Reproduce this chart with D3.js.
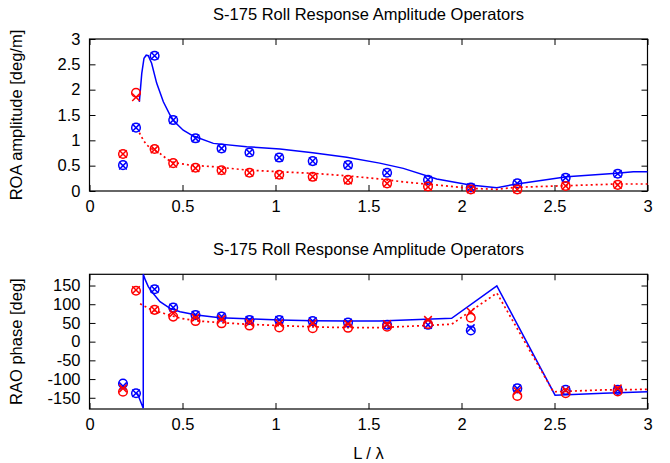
<!DOCTYPE html>
<html>
<head>
<meta charset="utf-8">
<script src="https://cdn.jsdelivr.net/npm/d3@7"></script>
<style>
  html, body { margin: 0; padding: 0; background: #fff; }
  svg text { font-family: "Liberation Sans", Arial, Helvetica, sans-serif; fill: #000; }
</style>
</head>
<body>
<svg id="chart" width="670" height="463"></svg>
<script>
// Wave length ratio L/λ of the measured runs
const xExp = [0.18, 0.25, 0.35, 0.45, 0.57, 0.71, 0.86, 1.02, 1.20, 1.39, 1.60, 1.82, 2.05, 2.30, 2.56, 2.84];

// Roll amplitude [deg/m], two measurement sets per condition
const ampBlueO = [0.51, 1.25, 2.67, 1.40, 1.04, 0.84, 0.76, 0.66, 0.59, 0.51, 0.36, 0.22, 0.07, 0.15, 0.26, 0.34];
const ampBlueX = [0.50, 1.25, 2.67, 1.40, 1.04, 0.84, 0.76, 0.66, 0.59, 0.51, 0.36, 0.22, 0.07, 0.15, 0.26, 0.34];
const ampRedO  = [0.73, 1.94, 0.83, 0.55, 0.46, 0.41, 0.36, 0.32, 0.28, 0.22, 0.15, 0.09, 0.03, 0.03, 0.10, 0.12];
const ampRedX  = [0.73, 1.85, 0.82, 0.54, 0.45, 0.40, 0.36, 0.31, 0.28, 0.21, 0.15, 0.08, 0.03, 0.03, 0.10, 0.12];

// Roll phase [deg]
const phBlueO = [-112, -138, 140, 91, 71, 67, 58, 58, 55, 51, 45, 45, 30, -125, -129, -129];
const phBlueX = [-119, -138, 140, 91, 72, 67, 58, 58, 55, 51, 45, 45, 36, -125, -129, -129];
const phRedO  = [-134, 136, 85, 67, 55, 49, 43, 38, 36, 37, 40, 47, 64, -145, -138, -133];
const phRedX  = [-125, 138, 85, 76, 64, 60, 51, 49, 49, 47, 47, 58, 80, -132, -130, -125];

// Computed responses (blue solid / red dotted)
const ampBlueModelX = [0.268, 0.281, 0.293, 0.305, 0.316, 0.334, 0.361, 0.397, 0.433, 0.456, 0.504, 0.558, 0.666, 0.845, 1.024, 1.20, 1.383, 1.56, 1.687, 1.867, 2.046, 2.19, 2.297, 2.566, 2.834, 2.924, 3.0];
const ampBlueModel  = [1.76, 2.32, 2.62, 2.68, 2.67, 2.52, 2.13, 1.76, 1.50, 1.37, 1.20, 1.085, 0.94, 0.874, 0.83, 0.756, 0.665, 0.55, 0.447, 0.237, 0.118, 0.066, 0.138, 0.282, 0.349, 0.38, 0.38];
const ampRedModelX  = [0.268, 0.29, 0.307, 0.34, 0.379, 0.42, 0.456, 0.54, 0.666, 0.845, 1.024, 1.20, 1.383, 1.56, 1.687, 1.867, 2.046, 2.19, 2.297, 2.566, 2.834, 3.0];
const ampRedModel   = [1.15, 1.00, 0.91, 0.82, 0.74, 0.62, 0.56, 0.51, 0.48, 0.414, 0.38, 0.349, 0.30, 0.237, 0.18, 0.118, 0.053, 0.033, 0.073, 0.105, 0.138, 0.138];

const phBlueModelX = [0.257, 0.289, 0.2891, 0.30, 0.316, 0.334, 0.379, 0.433, 0.487, 0.576, 0.70, 0.845, 1.024, 1.20, 1.383, 1.56, 1.947, 2.19, 2.503, 2.762, 3.0];
const phBlueModel  = [-138, -178, 180, 165, 147, 134, 107, 89, 80, 71.5, 64, 61, 58, 56, 55.5, 55.5, 62.5, 149, -143, -138, -134];
const phRedModelX  = [0.272, 0.334, 0.397, 0.487, 0.576, 0.70, 0.845, 1.024, 1.20, 1.383, 1.56, 1.947, 2.19, 2.494, 2.762, 3.0];
const phRedModel   = [101, 85, 76, 62.6, 55.5, 51, 46.5, 43, 39.5, 37.5, 37.5, 46.5, 130, -134, -129, -127.5];

// Axis ticks and labels
const xTicks = [0, 0.5, 1, 1.5, 2, 2.5, 3];
const xTickLabels = ["0", "0.5", "1", "1.5", "2", "2.5", "3"];
const ampTicks = [0, 0.5, 1, 1.5, 2, 2.5, 3];
const ampTickLabels = ["0", "0.5", "1", "1.5", "2", "2.5", "3"];
const phTicks = [-150, -100, -50, 0, 50, 100, 150];
const phTickLabels = ["-150", "-100", "-50", "0", "50", "100", "150"];

const titleText = "S-175 Roll Response Amplitude Operators";
const BLUE = "#0000ff", RED = "#ff0000";
const FONT = 16.5;

const svg = d3.select("#chart");
svg.append("rect").attr("width", 670).attr("height", 463).attr("fill", "#fff");

const x = d3.scaleLinear().domain([0, 3]).range([89.5, 647.5]);

function panel(opts) {
  const { y, yTicks, yLabels, yTitle, top, bottom, series, models, xTitle, titleY } = opts;
  const g = svg.append("g");
  const left = x.range()[0], right = x.range()[1];

  g.append("text").attr("x", (left + right) / 2).attr("y", titleY)
    .attr("text-anchor", "middle").attr("font-size", FONT).text(titleText);

  // inward ticks on all four sides
  const fmtX = d => xTickLabels[xTicks.indexOf(d)];
  const fmtY = d => yLabels[yTicks.indexOf(d)];
  const axB = g.append("g").attr("transform", `translate(0,${bottom})`)
    .call(d3.axisBottom(x).tickValues(xTicks).tickFormat(fmtX).tickSizeInner(-6).tickSizeOuter(0).tickPadding(9));
  const axT = g.append("g").attr("transform", `translate(0,${top})`)
    .call(d3.axisTop(x).tickValues(xTicks).tickFormat("").tickSizeInner(-6).tickSizeOuter(0));
  const axL = g.append("g").attr("transform", `translate(${left},0)`)
    .call(d3.axisLeft(y).tickValues(yTicks).tickFormat(fmtY).tickSizeInner(-6).tickSizeOuter(0).tickPadding(9));
  const axR = g.append("g").attr("transform", `translate(${right},0)`)
    .call(d3.axisRight(y).tickValues(yTicks).tickFormat("").tickSizeInner(-6).tickSizeOuter(0));
  [axB, axT, axL, axR].forEach(a => {
    a.select(".domain").remove();
    a.selectAll("line").attr("stroke", "#000").attr("stroke-width", 1);
    a.selectAll("text").attr("font-size", FONT).attr("font-family", '"Liberation Sans", Arial, sans-serif').attr("fill", "#000");
  });
  axB.selectAll("text").attr("dy", "0.71em");

  g.append("rect").attr("x", left).attr("y", top).attr("width", right - left).attr("height", bottom - top)
    .attr("fill", "none").attr("stroke", "#000").attr("stroke-width", 1.2);

  g.append("text").attr("transform", `translate(22,${(top + bottom) / 2}) rotate(-90)`)
    .attr("text-anchor", "middle").attr("font-size", FONT).text(yTitle);

  if (xTitle) {
    g.append("text").attr("x", (left + right) / 2).attr("y", bottom + 50)
      .attr("text-anchor", "middle").attr("font-size", FONT).text(xTitle);
  }

  const line = d3.line().x(d => x(d[0])).y(d => y(d[1]));
  const plot = g.append("g");
  models.forEach(m => {
    plot.append("path").datum(d3.zip(m.xs, m.ys)).attr("d", line)
      .attr("fill", "none").attr("stroke", m.color).attr("stroke-width", m.dash ? 1.7 : 1.5)
      .attr("stroke-dasharray", m.dash || null);
  });
  series.forEach(s => {
    const pts = d3.zip(xExp, s.ys);
    if (s.kind === "o") {
      plot.selectAll(null).data(pts).join("circle")
        .attr("cx", d => x(d[0])).attr("cy", d => y(d[1])).attr("r", 4.3)
        .attr("fill", "none").attr("stroke", s.color).attr("stroke-width", 1.5);
    } else {
      const k = 3.8;
      plot.selectAll(null).data(pts).join("path")
        .attr("d", d => {
          const cx = x(d[0]), cy = y(d[1]);
          return `M${cx - k},${cy - k}L${cx + k},${cy + k}M${cx - k},${cy + k}L${cx + k},${cy - k}`;
        })
        .attr("fill", "none").attr("stroke", s.color).attr("stroke-width", 1.5);
    }
  });
}

const yAmp = d3.scaleLinear().domain([0, 3]).range([191, 39]);
panel({
  y: yAmp, yTicks: ampTicks, yLabels: ampTickLabels, yTitle: "ROA amplitude [deg/m]",
  top: 39, bottom: 191, titleY: 20,
  models: [
    { xs: ampBlueModelX, ys: ampBlueModel, color: BLUE },
    { xs: ampRedModelX, ys: ampRedModel, color: RED, dash: "2,3" }
  ],
  series: [
    { ys: ampBlueO, color: BLUE, kind: "o" }, { ys: ampBlueX, color: BLUE, kind: "x" },
    { ys: ampRedO, color: RED, kind: "o" }, { ys: ampRedX, color: RED, kind: "x" }
  ]
});

const yPh = d3.scaleLinear().domain([-180, 180]).range([409, 274.3]);
panel({
  y: yPh, yTicks: phTicks, yLabels: phTickLabels, yTitle: "RAO phase [deg]",
  top: 274.3, bottom: 409, titleY: 255, xTitle: "L / λ",
  models: [
    { xs: phBlueModelX, ys: phBlueModel, color: BLUE },
    { xs: phRedModelX, ys: phRedModel, color: RED, dash: "2,3" }
  ],
  series: [
    { ys: phBlueO, color: BLUE, kind: "o" }, { ys: phBlueX, color: BLUE, kind: "x" },
    { ys: phRedO, color: RED, kind: "o" }, { ys: phRedX, color: RED, kind: "x" }
  ]
});
</script>
</body>
</html>
